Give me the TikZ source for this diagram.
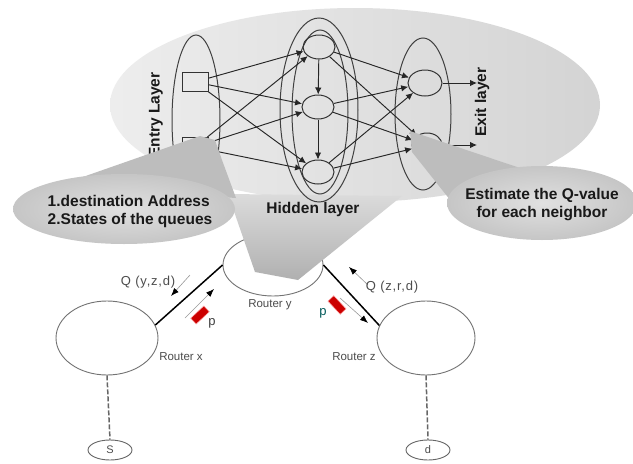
\documentclass[tikz,border=0pt]{standalone}
\usepackage{fontspec}
\setmainfont{Liberation Sans}
\usetikzlibrary{shapes.geometric,arrows.meta,calc}
\begin{document}
\begin{tikzpicture}[x=1pt,y=-1pt,
  neuron/.style={ellipse,draw=black!80,line width=1pt,minimum width=32pt,minimum height=24pt,inner sep=0pt},
  layer/.style={ellipse,draw=black!75,line width=1pt,inner sep=0pt},
  inbox/.style={rectangle,draw=black!80,line width=1pt,minimum width=26pt,minimum height=19pt,inner sep=0pt},
  conn/.style={draw=black!85,line width=0.95pt,-{Latex[length=7pt,width=6.5pt]}},
  router/.style={ellipse,draw=black!55,line width=0.9pt,inner sep=0pt,fill=white},
  host/.style={ellipse,draw=black!60,line width=0.9pt,minimum width=44pt,minimum height=20pt,inner sep=0pt,font=\fontsize{11}{12}\selectfont,text=black!70},
  link/.style={draw=black,line width=1.5pt},
  boldtxt/.style={font=\fontsize{15.5}{18}\selectfont\bfseries,text=black!90,inner sep=0pt},
  rlabel/.style={font=\fontsize{11.5}{13}\selectfont,text=black!70,inner sep=0pt},
  smallarrow/.style={draw=black!40,line width=0.6pt,-{Latex[length=8pt,width=6pt,black]}},
  packet/.style={rectangle,fill=red!80!black,draw=red!30,line width=0.5pt,minimum width=18pt,minimum height=8pt,inner sep=0pt},
  callout/.style={ellipse,inner sep=0pt,inner color=gray!24,outer color=gray!45},
  wedge/.style={fill=gray!52},
  hostlink/.style={dash pattern=on 5pt off 2pt,black!60,line width=1.5pt}
]
\useasboundingbox (0,0) rectangle (633,464);
\fill[white] (0,0) rectangle (633,464);

% big grey ellipse (neural network)
\node[ellipse,minimum width=490pt,minimum height=194pt,inner sep=0pt,left color=gray!14,right color=gray!34] (big) at (355,105) {};

% routers
\node[router,minimum width=100pt,minimum height=62pt] (Ry) at (273,265) {};
\node[router,minimum width=102pt,minimum height=74pt] (Rx) at (107,338) {};
\node[router,minimum width=98pt,minimum height=74pt] (Rz) at (426,338) {};
\node[host] (S) at (110,450) {S};
\node[host] (D) at (428,450) {d};
\draw[hostlink] (Rx.south) -- (S.north);
\draw[hostlink] (Rz.south) -- (D.north);
\draw[link] (Rx.15) -- (Ry.west);
\draw[link] (Ry.east) -- (Rz.165);

% central pointer toward router y
\path[top color=gray!28,bottom color=gray!62] (228,194) -- (402,196) -- (298,280) -- (255,272) -- cycle;

% layers
\node[layer,minimum width=48pt,minimum height=170pt] (Lin) at (196,120) {};
\node[layer,minimum width=78pt,minimum height=184pt] (Lh1) at (319,110) {};
\node[layer,minimum width=56pt,minimum height=164pt] (Lh2) at (320,112) {};
\node[layer,minimum width=56pt,minimum height=152pt] (Lout) at (423,114) {};

% neurons
\node[inbox] (S1) at (195,82) {};
\node[inbox] (S2) at (195,147) {};
\node[neuron] (H1) at (319,47) {};
\node[neuron] (H2) at (318,107) {};
\node[neuron] (H3) at (318,172) {};
\node[neuron,minimum width=34pt,minimum height=26pt] (E1) at (425,83) {};
\node[neuron,minimum width=30pt,minimum height=24pt] (E2) at (427,145) {};
\coordinate (O1) at (477,83);
\coordinate (O2) at (477,145);

\foreach \s in {S1,S2} \foreach \h in {H1,H2,H3} \draw[conn] (\s) -- (\h);
\foreach \h in {H1,H2,H3} \foreach \e in {E1,E2} \draw[conn] (\h) -- (\e);
\draw[conn] (H1) -- (H2);
\draw[conn] (H2) -- (H3);
\draw[conn] (E1.east) -- (O1);
\draw[conn] (E2.east) -- (O2);

\node[boldtxt,rotate=90] (tin) at (156,115) {Entry Layer};
\node[boldtxt,rotate=90] (tout) at (482,102) {Exit layer};
\node[boldtxt] (thid) at (313,209) {Hidden layer};

% left callout
\path[wedge] (57,186) -- (200,136) -- (215,140) -- (222,160) -- (236,198) -- cycle;
\node[callout,minimum width=222pt,minimum height=70pt] (LC) at (124,209) {};
\node[boldtxt,align=left] (tl) at (130,211) {1.destination Address\\2.States of the queues};

% right callout
\path[wedge] (410,131) -- (520,168) -- (470,225) -- (412,152) -- cycle;
\node[callout,minimum width=190pt,minimum height=74pt] (RC) at (542,203) {};
\node[boldtxt,align=center] (tr) at (542,205) {Estimate the Q-value\\for each neighbor};

% router labels
\node[rlabel] (ly) at (270,305) {Router y};
\node[rlabel] (lx) at (181,357) {Router x};
\node[rlabel] (lz) at (354,357) {Router z};

% link annotations
\coordinate (a1s) at (190,275); \coordinate (a1e) at (171,296);
\coordinate (a2s) at (185,318); \coordinate (a2e) at (214,289);
\coordinate (a3s) at (368,285); \coordinate (a3e) at (349,267);
\coordinate (a4s) at (340,298); \coordinate (a4e) at (368,323);
\draw[smallarrow] (a1s) -- (a1e);
\draw[smallarrow] (a2s) -- (a2e);
\draw[smallarrow] (a3s) -- (a3e);
\draw[smallarrow] (a4s) -- (a4e);
\node[packet,rotate=43] (p1) at (200,315) {};
\node[packet,rotate=-47] (p2) at (337,305) {};
\node[rlabel,font=\fontsize{13}{14}\selectfont\addfontfeature{LetterSpace=6}] (q1) at (148,282) {Q (y,z,d)};
\node[rlabel,font=\fontsize{13}{14}\selectfont\addfontfeature{LetterSpace=6}] (q2) at (392,287) {Q (z,r,d)};
\node[rlabel,font=\fontsize{13}{14}\selectfont,text=black!75] (pl) at (212,323) {p};
\node[rlabel,font=\fontsize{13}{14}\selectfont,text=teal!70!black] (pr) at (323,313) {p};
\end{tikzpicture}
\end{document}
